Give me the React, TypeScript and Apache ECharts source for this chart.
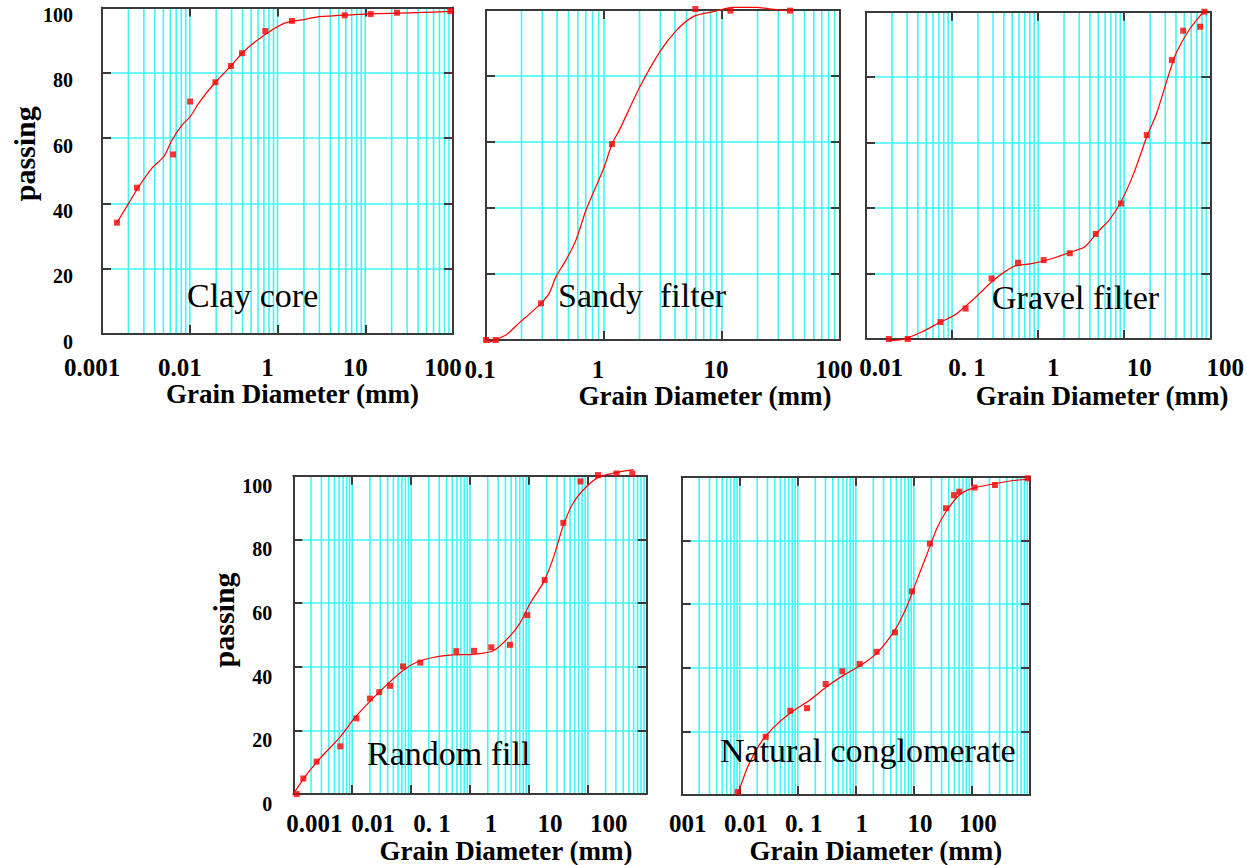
import React, { useEffect, useRef } from "react";
import * as echarts from "echarts";

// ---------- DATA (grain diameter in mm, percent passing) ----------
// Clay core
const clayPointD = [0.00148, 0.0025, 0.00645, 0.0101, 0.0196, 0.0295, 0.0394, 0.0727, 0.146, 0.583, 1.153, 2.3, 9.33];
const clayPointP = [34.1, 44.8, 55.0, 71.2, 77.1, 82.1, 86.0, 92.8, 95.9, 97.6, 98.0, 98.4, 98.9];
const clayCurveD = [0.00148, 0.00201, 0.00262, 0.00371, 0.00505, 0.00628, 0.00816, 0.01014, 0.01265, 0.01955, 0.0303, 0.0394, 0.0558, 0.0865, 0.1227, 0.19, 0.302, 1.03, 3.82, 10];
const clayCurveP = [34.1, 40.0, 45.1, 50.8, 54.3, 59.4, 64.0, 66.6, 70.7, 77.1, 82.4, 86.0, 89.5, 93.1, 95.3, 96.2, 97.2, 98.0, 98.4, 98.8];
const clayTicks = ["0.001", "0.01", "1", "10", "100"];

// Sandy filter
const sandPointD = [0.1, 0.1207, 0.2925, 1.169, 5.94, 11.8, 37.7];
const sandPointP = [0, 0, 11.1, 59.4, 100.3, 99.8, 99.8];
const sandCurveD = [0.1046, 0.1215, 0.1477, 0.1916, 0.2406, 0.2925, 0.3438, 0.392, 0.476, 0.579, 0.704, 0.855, 1.006, 1.169, 1.349, 2.02, 2.98, 4.13, 5.71, 8.45, 12.5, 19.7, 27.2, 37.7];
const sandCurveP = [-0.8, 0.2, 1.5, 5.2, 8.3, 11.1, 14.2, 19.2, 24.2, 30.3, 39.4, 46.5, 52.5, 59.4, 63.6, 76.8, 87.4, 93.9, 98.0, 99.5, 100.8, 100.8, 100.2, 99.8];
const sandTicks = ["0.1", "1", "10", "100"];

// Gravel filter
const gravPointD = [0.0184, 0.0305, 0.0734, 0.1435, 0.288, 0.583, 1.159, 2.33, 4.67, 9.21, 18.3, 35.8, 48.5, 76.4, 85.5];
const gravPointP = [0, 0, 5.2, 9.3, 18.5, 23.3, 24.1, 26.2, 32.1, 41.4, 62.3, 85.2, 94.2, 95.4, 100];
const gravCurveD = [0.0184, 0.0267, 0.0451, 0.0734, 0.1077, 0.1815, 0.306, 0.516, 0.871, 1.467, 2.47, 3.5, 4.96, 6.73, 9.21, 12.9, 18.3, 23.8, 32.3, 40.1, 56.8, 85.5];
const gravCurveP = [-0.5, -0.1, 2.2, 5.2, 7.3, 12.4, 18.0, 22.1, 23.1, 24.6, 26.7, 28.2, 32.8, 36.4, 42.0, 50.6, 61.8, 68.9, 80.1, 87.3, 94.4, 100.3];
const gravTicks = ["0.01", "0. 1", "1", "10", "100"];

// Random fill
const randPointD = [0.00114, 0.00148, 0.00249, 0.00628, 0.01175, 0.02, 0.0288, 0.0438, 0.0728, 0.143, 0.585, 1.167, 2.3, 4.77, 9.4, 18.5, 38.4, 75.5, 149, 308, 569];
const randPointP = [0, 4.9, 10.2, 15.0, 23.8, 30.0, 32.0, 34.0, 40.1, 41.3, 44.9, 45.0, 46.1, 46.9, 56.2, 67.2, 85.2, 98.2, 100.2, 100.7, 100.7];
const randCurveD = [0.00104, 0.00168, 0.00284, 0.0062, 0.0111, 0.02, 0.0385, 0.0738, 0.124, 0.238, 0.52, 1.14, 2.49, 4.77, 7.05, 10.4, 17.6, 25.9, 38.4, 56.8, 95.5, 161, 352, 592];
const randCurveP = [0.5, 6.1, 11.2, 17.9, 24.0, 29.1, 34.3, 38.9, 41.4, 42.9, 43.7, 43.9, 45.0, 49.6, 53.7, 59.8, 66.5, 74.1, 84.4, 91.5, 96.6, 99.7, 101.2, 101.9];
const randTicks = ["0.001", "0.01", "0. 1", "1", "10", "100", ""];

// Natural conglomerate
const natPointD = [0.0092, 0.028, 0.0744, 0.144, 0.302, 0.585, 1.162, 2.28, 4.72, 9.27, 18.9, 35.7, 49.0, 60.5, 111, 249, 910];
const natPointP = [1.0, 18.3, 26.5, 27.3, 34.9, 38.9, 41.2, 45.0, 51.1, 64.0, 79.0, 90.1, 94.2, 95.3, 96.6, 97.4, 99.5];
const natCurveD = [0.0092, 0.0141, 0.0223, 0.0379, 0.0744, 0.162, 0.314, 0.608, 1.18, 2.28, 4.72, 7.5, 11.1, 16.6, 24.6, 36.6, 62.1, 105, 233, 515, 1000];
const natCurveP = [0.2, 9.4, 16.1, 21.2, 25.8, 29.9, 34.0, 37.6, 40.6, 44.5, 51.9, 59.1, 67.2, 75.4, 83.6, 89.3, 94.4, 96.4, 97.7, 98.8, 99.2];
const natTicks = ["001", "0.01", "0. 1", "1", "10", "100", ""];

const yTicks = [0, 20, 40, 60, 80, 100];
const xTitle = "Grain Diameter (mm)";
const yTitle = "passing";

// ---------- LAYOUT / STYLE ----------
const FONT = "Liberation Serif, Times New Roman, serif";
const CYAN = "#3ff6f6";
const FRAME = "#3a3a3a";
const RED = "#ff0000";

const panels = [
  {
    label: "Clay core", pD: clayPointD, pP: clayPointP, cD: clayCurveD, cP: clayCurveP, ticks: clayTicks,
    min: 0.001, max: 10, left: 102, top: 7.5, width: 351, height: 326.5,
    showY: true, yMargin: 29, yLH: 15, nameGap: 60, namePad: [0, 0, 0, 34],
    xMargin: 21, xPad: [0, 20, 0, 0], titleGap: 30, titlePad: [0, 0, 0, 30],
    tx: 187, ty: 278,
  },
  {
    label: "Sandy  filter", pD: sandPointD, pP: sandPointP, cD: sandCurveD, cP: sandCurveP, ticks: sandTicks,
    min: 0.1, max: 100, left: 486, top: 10, width: 354, height: 330,
    showY: false, yMargin: 20, yLH: 20, nameGap: 50, namePad: [0, 0, 0, 0],
    xMargin: 17, xPad: [0, 12, 0, 0], titleGap: 35, titlePad: [0, 0, 0, 84],
    tx: 558, ty: 278,
  },
  {
    label: "Gravel filter", pD: gravPointD, pP: gravPointP, cD: gravCurveD, cP: gravCurveP, ticks: gravTicks,
    min: 0.01, max: 100, left: 866, top: 11.7, width: 352.3, height: 327.3,
    showY: false, yMargin: 20, yLH: 20, nameGap: 50, namePad: [0, 0, 0, 0],
    xMargin: 16, xPad: [0, 0, 0, 30], titleGap: 43, titlePad: [0, 0, 0, 128],
    tx: 992, ty: 280,
  },
  {
    label: "Random fill", pD: randPointD, pP: randPointP, cD: randCurveD, cP: randCurveP, ticks: randTicks,
    min: 0.001, max: 1000, left: 293.3, top: 475.7, width: 353.4, height: 326,
    showY: true, yMargin: 21, yLH: 20, nameGap: 53, namePad: [0, 0, 0, 30],
    xMargin: 17, xPad: [0, 0, 0, 42], titleGap: 32, titlePad: [0, 0, 0, 72],
    tx: 367, ty: 736,
  },
  {
    label: "Natural conglomerate", pD: natPointD, pP: natPointP, cD: natCurveD, cP: natCurveP, ticks: natTicks,
    min: 0.001, max: 1000, left: 681.7, top: 476.7, width: 348.3, height: 325.6,
    showY: false, yMargin: 20, yLH: 20, nameGap: 50, namePad: [0, 0, 0, 0],
    xMargin: 16, xPad: [0, 0, 0, 12], titleGap: 33, titlePad: [0, 0, 0, 40],
    tx: 720, ty: 733,
  },
];

// log-paper grid values (decades and 2..9 subdivisions) strictly inside the axis range
function logGridValues(min: number, max: number): number[] {
  const out: number[] = [];
  const a = Math.round(Math.log10(min));
  const b = Math.round(Math.log10(max));
  for (let k = a; k < b; k++) {
    for (let m = 1; m <= 9; m++) {
      const v = Number((m * Math.pow(10, k)).toPrecision(6));
      if (v > min * 1.0001 && v < max * 0.9999) out.push(v);
    }
  }
  return out;
}

function buildOption() {
  const grid: any[] = [];
  const xAxis: any[] = [];
  const yAxis: any[] = [];
  const series: any[] = [];
  const graphic: any[] = [];
  const tickLine = { color: FRAME, width: 2 };

  panels.forEach((p, i) => {
    grid.push({ left: p.left, top: p.top, width: p.width, height: p.height, containLabel: false });

    xAxis.push({
      type: "log", gridIndex: i, logBase: 10, min: p.min, max: p.max,
      axisLine: { show: false }, axisTick: { show: false }, axisLabel: { show: false },
      splitLine: { show: false }, minorSplitLine: { show: false },
    });
    xAxis.push({
      type: "category", gridIndex: i, position: "bottom", data: p.ticks, boundaryGap: false, z: 3,
      axisLine: { show: true, onZero: false, lineStyle: tickLine },
      axisTick: { show: true, inside: true, length: 9, interval: 0, lineStyle: tickLine },
      axisLabel: {
        show: true, interval: 0, margin: p.xMargin, padding: p.xPad,
        fontFamily: FONT, fontWeight: "bold", fontSize: 25, color: "#000",
      },
      splitLine: { show: false },
      name: xTitle, nameLocation: "middle", nameGap: p.titleGap,
      nameTextStyle: { fontFamily: FONT, fontWeight: "bold", fontSize: 27, color: "#000", padding: p.titlePad, verticalAlign: "top" },
    });
    xAxis.push({
      type: "category", gridIndex: i, position: "top", data: p.ticks, boundaryGap: false, z: 3,
      axisLine: { show: true, onZero: false, lineStyle: tickLine },
      axisTick: { show: true, inside: true, length: 9, interval: 0, lineStyle: tickLine },
      axisLabel: { show: false }, splitLine: { show: false },
    });

    yAxis.push({
      type: "value", gridIndex: i, position: "left", min: yTicks[0], max: yTicks[yTicks.length - 1], interval: 20, z: 3,
      axisLine: { show: true, onZero: false, lineStyle: tickLine },
      axisTick: { show: true, inside: true, length: 9, lineStyle: tickLine },
      axisLabel: {
        show: p.showY, margin: p.yMargin, verticalAlign: "top", lineHeight: p.yLH,
        fontFamily: FONT, fontWeight: "bold", fontSize: 20, color: "#000",
      },
      splitLine: { show: true, showMinLine: false, showMaxLine: false, lineStyle: { color: CYAN, width: 1.6 } },
      name: p.showY ? yTitle : "", nameLocation: "middle", nameGap: p.nameGap,
      nameTextStyle: { fontFamily: FONT, fontWeight: "bold", fontSize: 30, color: "#000", padding: p.namePad },
    });
    yAxis.push({
      type: "value", gridIndex: i, position: "right", min: 0, max: 100, interval: 20, z: 3,
      axisLine: { show: true, onZero: false, lineStyle: tickLine },
      axisTick: { show: true, inside: true, length: 9, lineStyle: tickLine },
      axisLabel: { show: false }, splitLine: { show: false },
    });

    const curve = p.cD.map((d, j) => [d, p.cP[j]]);
    const pts = p.pD.map((d, j) => [d, p.pP[j]]);

    // vertical log-paper grid lines, placed through the log axis
    series.push({
      type: "custom", xAxisIndex: 3 * i, yAxisIndex: 2 * i, z: 1, silent: true,
      data: logGridValues(p.min, p.max).map((v) => [v, 0]),
      encode: { x: 0, y: 1 },
      renderItem: (_params: any, api: any) => {
        const v = api.value(0);
        const a = api.coord([v, 0]);
        const b = api.coord([v, 100]);
        return {
          type: "line",
          shape: { x1: a[0], y1: a[1], x2: b[0], y2: b[1] },
          style: { stroke: CYAN, lineWidth: 1.6 },
        };
      },
    });
    series.push({
      type: "line", xAxisIndex: 3 * i, yAxisIndex: 2 * i, data: curve, smooth: 0.25, symbol: "none",
      lineStyle: { color: RED, width: 1.2 }, clip: false, z: 4, silent: true,
    });
    series.push({
      type: "scatter", xAxisIndex: 3 * i, yAxisIndex: 2 * i, data: pts, symbol: "rect", symbolSize: 6,
      itemStyle: { color: RED }, clip: false, z: 5, silent: true,
    });

    graphic.push({
      type: "text", left: p.tx, top: p.ty, z: 10,
      style: { text: p.label, fontFamily: FONT, fontSize: 34, fill: "#000" },
    });
  });

  return {
    animation: false,
    backgroundColor: "#ffffff",
    grid, xAxis, yAxis, series, graphic,
  };
}

export default function App() {
  const ref = useRef<HTMLDivElement>(null);
  useEffect(() => {
    if (!ref.current) return;
    const chart = echarts.init(ref.current, undefined, { renderer: "svg" });
    chart.setOption(buildOption() as any);
    return () => chart.dispose();
  }, []);
  return (
    <div
      ref={ref}
      style={{ position: "absolute", left: 0, top: 0, width: 1247, height: 865, background: "#fff" }}
    />
  );
}
